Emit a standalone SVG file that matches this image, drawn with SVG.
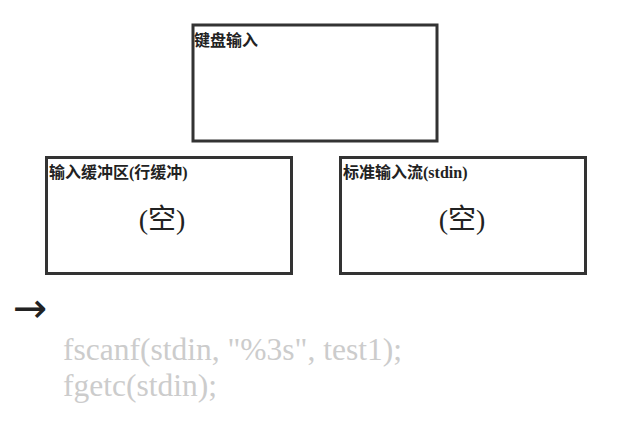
<svg xmlns="http://www.w3.org/2000/svg" width="629" height="423" viewBox="0 0 629 423">
<style>
.box{fill:#fff;stroke:#333;stroke-width:3}
.lbl{font-family:"Liberation Serif","Noto Sans CJK SC",serif;font-size:16px;font-weight:bold;fill:#222}
.empty{font-family:"Liberation Serif","Noto Sans CJK SC",serif;font-size:28px;fill:#222}
.code{font-family:"Liberation Serif",serif;font-size:31.5px;fill:#ccc}
</style>
<rect width="629" height="423" fill="#fff"/>
<g id="keyboard">
<rect class="box" x="193" y="25" width="244" height="116"/>
<text class="lbl" x="194" y="46">键盘输入</text>
</g>
<g id="buffer">
<rect class="box" x="46.5" y="157.5" width="245" height="116"/>
<text class="lbl" x="49" y="178">输入缓冲区(行缓冲)</text>
<text class="empty" x="162" y="229" text-anchor="middle">(空)</text>
</g>
<g id="stdin">
<rect class="box" x="340.5" y="157.5" width="245" height="116"/>
<text class="lbl" x="343" y="178">标准输入流(stdin)</text>
<text class="empty" x="462" y="229" text-anchor="middle">(空)</text>
</g>
<g id="connectors">
<text x="13" y="322" style="font-family:'DejaVu Sans',sans-serif;font-size:41px;fill:#222">→</text>
</g>
<g id="code">
<text class="code" x="63" y="360">fscanf(stdin, "%3s", test1);</text>
<text class="code" x="63" y="396">fgetc(stdin);</text>
</g>
</svg>
